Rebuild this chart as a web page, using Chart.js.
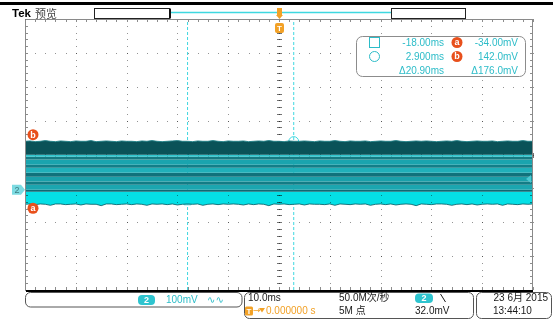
<!DOCTYPE html>
<html>
<head>
<meta charset="utf-8">
<script src="https://cdn.jsdelivr.net/npm/chart.js@4.4.1/dist/chart.umd.min.js"></script>
<style>
  html, body { margin: 0; padding: 0; background: #ffffff; overflow: hidden; }
  canvas { display: block; }
</style>
</head>
<body>
<canvas id="scope" width="553" height="320" style="width:553px;height:320px"></canvas>
<script>
// ---- Screen ranges: 10 ms/div horizontally, 100 mV/div vertically (CH2) ----
const timeSpanMs = [-50, 50];
const voltSpanMv = [-296, 504];

// Upper envelope of the CH2 trace (mV), sampled evenly across the screen
const upperEdgeMv = [
  143,144,142,143,145,143,142,144,143,142,144,143,143,145,142,143,144,143,142,144,
  143,143,142,144,143,145,143,142,143,144,145,143,143,142,144,143,143,145,143,142,
  144,143,143,144,142,143,144,143,145,143,143,142,144,143,143,144,143,142,144,143,
  143,145,143,142,144,143,143,144,142,143,144,143,143,145,143,142,143,144,143,144,
  143,142,143,144,143,145,143,142,143,144,143,143,144,142,143,144,143,143,145,143,
  143
];

// Lower envelope of the CH2 trace (mV)
const lowerEdgeMv = [
  -43,-42,-44,-42,-43,-46,-42,-42,-44,-43,-42,-45,-42,-43,-43,-47,-42,-42,-44,-43,
  -42,-44,-42,-43,-46,-42,-43,-42,-44,-42,-45,-43,-42,-43,-42,-46,-43,-42,-44,-42,
  -43,-42,-43,-45,-42,-44,-42,-43,-47,-42,-43,-42,-44,-43,-42,-45,-42,-43,-43,-44,
  -42,-46,-42,-43,-44,-42,-43,-42,-46,-43,-42,-44,-42,-45,-43,-42,-43,-47,-42,-43,
  -44,-42,-42,-43,-46,-43,-42,-44,-42,-45,-43,-42,-43,-42,-46,-42,-43,-44,-42,-43,
  -42
];

// Intensity bands inside the persistence trace (mV)
const darkBandBottomMv = 103;
const stripeTopMv    = [103, 97, 89, 74, 65, 50, 38, 24, 15,  0];
const stripeBottomMv = [ 97, 89, 74, 65, 50, 38, 24, 15,  0, -6];
const brightBandTopMv = -6;

// Cursors a / b
const cursorTimesMs  = [-18.0, 2.9];
const cursorLevelsMv = [-34.0, 142.0];

// Trigger and channel settings
const triggerTimeMs  = 0;
const triggerLevelMv = 32.0;
const groundMv       = 0;
const channelScale   = '100mV';
const timeScale      = '10.0ms';
const sampleRate     = '50.0M次/秒';
const recordLength   = '5M 点';
const triggerDelay   = '0.000000 s';
const dateText       = '23 6月 2015';
const timeText       = '13:44:10';

// ---- Colours ----
const CYAN      = '#2cbcc8';
const CYAN_LINE = '#3fd8e0';
const ORANGE    = '#f2a126';
const RED       = '#e8501c';
const stripeColors = [
  'rgb(46,196,204)', 'rgb(22,122,130)', 'rgb(26,164,174)', 'rgb(19,126,136)',
  'rgb(32,176,186)', 'rgb(16,114,124)', 'rgb(26,160,170)', 'rgb(19,124,134)',
  'rgb(28,166,176)', 'rgb(14,106,116)'
];

function edgePoints(values) {
  const step = (timeSpanMs[1] - timeSpanMs[0]) / (values.length - 1);
  return values.map((v, i) => ({ x: timeSpanMs[0] + i * step, y: v }));
}
function levelLine(v) {
  return [{ x: timeSpanMs[0], y: v }, { x: timeSpanMs[1], y: v }];
}

const datasets = [];
datasets.push({
  data: edgePoints(upperEdgeMv),
  fill: { value: darkBandBottomMv },
  backgroundColor: 'rgb(10,82,88)',
  borderColor: 'rgba(30,128,134,0.9)',
  borderWidth: 1
});
stripeTopMv.forEach((top, i) => {
  datasets.push({
    data: levelLine(top),
    fill: { value: stripeBottomMv[i] },
    backgroundColor: stripeColors[i],
    borderWidth: 0
  });
});
datasets.push({
  data: edgePoints(lowerEdgeMv),
  fill: { value: brightBandTopMv },
  backgroundColor: 'rgb(4,224,230)',
  borderColor: 'rgba(12,96,104,0.85)',
  borderWidth: 1
});
const waveLastIndex = datasets.length - 1;

// Vertical cursor lines
cursorTimesMs.forEach(t => {
  datasets.push({
    data: [{ x: t, y: voltSpanMv[0] }, { x: t, y: voltSpanMv[1] }],
    borderColor: CYAN_LINE,
    borderWidth: 1,
    borderDash: [3, 2],
    fill: false
  });
});
// Cursor intersection markers (square = a, circle = b)
datasets.push({
  data: [{ x: cursorTimesMs[0], y: cursorLevelsMv[0] }],
  showLine: false, pointStyle: 'rect', pointRadius: 5,
  pointBorderColor: CYAN_LINE, pointBackgroundColor: 'rgba(0,0,0,0)', pointBorderWidth: 1
});
datasets.push({
  data: [{ x: cursorTimesMs[1], y: cursorLevelsMv[1] }],
  showLine: false, pointStyle: 'circle', pointRadius: 5,
  pointBorderColor: CYAN_LINE, pointBackgroundColor: 'rgba(0,0,0,0)', pointBorderWidth: 1
});

const FONT = '"Liberation Sans", "Noto Sans CJK SC", sans-serif';

function roundBox(ctx, x, y, w, h, r) {
  ctx.beginPath();
  ctx.roundRect(x, y, w, h, r);
}
function badge(ctx, x, y, r, color, letter) {
  ctx.fillStyle = color;
  ctx.beginPath(); ctx.arc(x, y, r, 0, Math.PI * 2); ctx.fill();
  ctx.fillStyle = '#fff';
  ctx.font = 'bold 9px ' + FONT;
  ctx.textAlign = 'center'; ctx.textBaseline = 'middle';
  ctx.fillText(letter, x, y + 0.5);
}

const graticule = {
  id: 'graticule',
  afterDatasetDraw(chart, args) {
    if (args.index !== waveLastIndex) return;
    const ctx = chart.ctx;
    const { left, right, top, bottom } = chart.chartArea;
    const dx = (right - left) / 10, dy = (bottom - top) / 8;
    ctx.save();
    ctx.fillStyle = 'rgba(0,0,0,0.42)';
    for (let i = 1; i < 10; i++) {
      const x = Math.round(left + i * dx);
      for (let k = 0; k <= 40; k++) ctx.fillRect(x, Math.round(top + k * dy / 5), 1, 1);
    }
    for (let j = 1; j < 8; j++) {
      const y = Math.round(top + j * dy);
      for (let k = 0; k <= 50; k++) ctx.fillRect(Math.round(left + k * dx / 5), y, 1, 1);
    }
    // centre cross with minor ticks
    const cx = Math.round(left + 5 * dx), cy = Math.round(top + 4 * dy);
    ctx.fillStyle = 'rgba(0,0,0,0.55)';
    for (let k = 0; k <= 40; k++) ctx.fillRect(cx - 2, Math.round(top + k * dy / 5), 5, 1);
    for (let k = 0; k <= 50; k++) ctx.fillRect(Math.round(left + k * dx / 5), cy - 2, 1, 5);
    // edge ticks
    ctx.fillStyle = 'rgba(0,0,0,0.45)';
    for (let k = 0; k <= 40; k++) {
      const y = Math.round(top + k * dy / 5);
      ctx.fillRect(left, y, 3, 1); ctx.fillRect(right - 3, y, 3, 1);
    }
    for (let k = 0; k <= 50; k++) {
      const x = Math.round(left + k * dx / 5);
      ctx.fillRect(x, top, 1, 3); ctx.fillRect(x, bottom - 3, 1, 3);
    }
    ctx.restore();
  }
};

const scopeDecor = {
  id: 'scopeDecor',
  afterDraw(chart) {
    const ctx = chart.ctx;
    const { left, right, top, bottom } = chart.chartArea;
    const xs = chart.scales.x, ys = chart.scales.y;
    ctx.save();

    // frame
    ctx.strokeStyle = '#8a8a8a'; ctx.lineWidth = 1;
    ctx.beginPath();
    ctx.moveTo(left + 0.5, bottom); ctx.lineTo(left + 0.5, top + 0.5);
    ctx.lineTo(right - 0.5, top + 0.5); ctx.lineTo(right - 0.5, bottom);
    ctx.stroke();
    ctx.fillStyle = '#000';
    ctx.fillRect(left + 1, bottom, right - left - 1, 2);

    // header
    ctx.fillRect(0, 2, 553, 3);
    ctx.font = 'bold 11.5px ' + FONT;
    ctx.textAlign = 'left'; ctx.textBaseline = 'alphabetic';
    ctx.fillText('Tek', 12, 17);
    ctx.font = '11px "Noto Sans CJK SC", sans-serif';
    ctx.fillStyle = '#444';
    ctx.fillText('预览', 35, 17.5);

    // record view bar
    ctx.strokeStyle = '#222'; ctx.lineWidth = 1;
    ctx.strokeRect(94.5, 8.5, 75.5, 10);
    ctx.strokeRect(391.5, 8.5, 74, 10);
    ctx.strokeStyle = CYAN_LINE; ctx.lineWidth = 1.5;
    ctx.beginPath(); ctx.moveTo(170, 12.5); ctx.lineTo(391, 12.5); ctx.stroke();
    ctx.fillStyle = '#111';
    ctx.fillRect(169, 9, 2, 9);

    // trigger position markers
    const tx = Math.round(xs.getPixelForValue(triggerTimeMs));
    ctx.fillStyle = ORANGE;
    ctx.fillRect(tx - 2, 8, 5, 7);
    ctx.beginPath(); ctx.moveTo(tx - 3, 15); ctx.lineTo(tx + 4, 15); ctx.lineTo(tx + 0.5, 19); ctx.closePath(); ctx.fill();
    roundBox(ctx, tx - 4, 23, 9, 10, 2); ctx.fill();
    ctx.fillStyle = '#fff';
    ctx.font = 'bold 8px ' + FONT; ctx.textAlign = 'center'; ctx.textBaseline = 'middle';
    ctx.fillText('T', tx + 0.5, 28.5);

    // ground reference marker for CH2
    const gy = ys.getPixelForValue(groundMv);
    ctx.fillStyle = '#7ddbe2';
    ctx.beginPath();
    ctx.moveTo(12, gy - 5); ctx.lineTo(21, gy - 5); ctx.lineTo(25, gy);
    ctx.lineTo(21, gy + 5); ctx.lineTo(12, gy + 5); ctx.closePath(); ctx.fill();
    ctx.fillStyle = '#3d7c82';
    ctx.font = '9px ' + FONT;
    ctx.fillText('2', 17, gy + 0.5);

    // trigger level marker
    const ty = ys.getPixelForValue(triggerLevelMv);
    ctx.fillStyle = '#4cc8d2';
    ctx.beginPath(); ctx.moveTo(right - 7, ty); ctx.lineTo(right - 2, ty - 4); ctx.lineTo(right - 2, ty + 4); ctx.closePath(); ctx.fill();

    // cursor a / b labels at the left edge
    badge(ctx, left + 8, ys.getPixelForValue(cursorLevelsMv[1]) - 7, 5.5, RED, 'b');
    badge(ctx, left + 8, ys.getPixelForValue(cursorLevelsMv[0]) + 7, 5.5, RED, 'a');

    // cursor readout
    ctx.fillStyle = '#fff';
    roundBox(ctx, 356.5, 36.5, 169, 40, 6); ctx.fill();
    ctx.strokeStyle = '#8c8c8c'; ctx.lineWidth = 1; ctx.stroke();
    ctx.strokeStyle = CYAN; 
    ctx.strokeRect(369.5, 37.5, 10, 10);
    ctx.beginPath(); ctx.arc(374.5, 56.5, 5, 0, Math.PI * 2); ctx.stroke();
    const fmt = v => v.toPrecision(4);
    const dt = cursorTimesMs[1] - cursorTimesMs[0];
    const dv = cursorLevelsMv[1] - cursorLevelsMv[0];
    ctx.fillStyle = CYAN; ctx.font = '10px ' + FONT;
    ctx.textAlign = 'right'; ctx.textBaseline = 'middle';
    ctx.fillText(fmt(cursorTimesMs[0]) + 'ms', 444, 43);
    ctx.fillText(fmt(cursorTimesMs[1]) + 'ms', 444, 57);
    ctx.fillText('Δ' + fmt(dt) + 'ms', 444, 71);
    ctx.fillText(fmt(cursorLevelsMv[0]) + 'mV', 518, 43);
    ctx.fillText(fmt(cursorLevelsMv[1]) + 'mV', 518, 57);
    ctx.fillText('Δ' + fmt(dv) + 'mV', 518, 71);
    badge(ctx, 457, 42.5, 5.5, RED, 'a');
    badge(ctx, 457, 56.5, 5.5, RED, 'b');

    // ---- status bar ----
    ctx.strokeStyle = '#555'; ctx.lineWidth = 1;
    roundBox(ctx, 25.5, 292.5, 216.5, 14.5, 5); ctx.stroke();
    roundBox(ctx, 244.5, 292.5, 229, 26, 5); ctx.stroke();
    roundBox(ctx, 476.5, 292.5, 75, 26, 5); ctx.stroke();

    // channel 2 settings
    ctx.fillStyle = '#2ec4cf';
    roundBox(ctx, 138, 295, 17, 10, 4); ctx.fill();
    ctx.fillStyle = '#fff'; ctx.font = 'bold 9px ' + FONT;
    ctx.textAlign = 'center'; ctx.fillText('2', 146.5, 300.5);
    ctx.fillStyle = CYAN; ctx.font = '10px ' + FONT; ctx.textAlign = 'left';
    ctx.fillText(channelScale, 166, 300.5);
    ctx.font = '10px "DejaVu Sans", sans-serif';
    ctx.fillText('∿∿', 207, 300);

    // horizontal / acquisition
    ctx.fillStyle = '#1a1a1a'; ctx.font = '10px ' + FONT;
    ctx.fillText(timeScale, 248, 298.5);
    ctx.fillText(sampleRate, 339, 298.5);
    ctx.fillText(recordLength, 339, 311.5);
    ctx.fillStyle = ORANGE;
    roundBox(ctx, 245, 306.5, 8, 9, 1.5); ctx.fill();
    ctx.fillStyle = '#fff'; ctx.font = 'bold 8px ' + FONT; ctx.textAlign = 'center';
    ctx.fillText('T', 249, 311.5);
    ctx.fillStyle = ORANGE; ctx.textAlign = 'left'; ctx.font = '9px "DejaVu Sans", sans-serif';
    ctx.fillText('→', 253, 311);
    ctx.beginPath(); ctx.moveTo(259, 308); ctx.lineTo(265, 308); ctx.lineTo(262, 312.5); ctx.closePath(); ctx.fill();
    ctx.font = '10px ' + FONT;
    ctx.fillText(triggerDelay, 266, 311.5);

    // trigger
    ctx.fillStyle = '#2ec4cf';
    roundBox(ctx, 415, 293.5, 18, 9.5, 4); ctx.fill();
    ctx.fillStyle = '#fff'; ctx.font = 'bold 9px ' + FONT; ctx.textAlign = 'center';
    ctx.fillText('2', 424, 298.5);
    ctx.strokeStyle = '#1a1a1a'; ctx.lineWidth = 1;
    ctx.beginPath(); ctx.moveTo(440.5, 294); ctx.lineTo(445.5, 302); ctx.stroke();
    ctx.fillStyle = '#1a1a1a'; ctx.font = '10px ' + FONT; ctx.textAlign = 'left';
    ctx.fillText(triggerLevelMv.toFixed(1) + 'mV', 415, 311.5);

    // date / time
    ctx.textAlign = 'right';
    ctx.fillText(dateText, 548, 298.5);
    ctx.textAlign = 'left';
    ctx.fillText(timeText, 493, 311.5);

    ctx.restore();
  }
};

new Chart(document.getElementById('scope'), {
  type: 'line',
  data: { datasets },
  options: {
    responsive: false,
    devicePixelRatio: 1,
    animation: false,
    parsing: true,
    layout: { padding: { left: 25, top: 19, right: 20, bottom: 30 } },
    elements: { point: { radius: 0, hoverRadius: 0 }, line: { tension: 0 } },
    scales: {
      x: { type: 'linear', min: timeSpanMs[0], max: timeSpanMs[1], display: false },
      y: { type: 'linear', min: voltSpanMv[0], max: voltSpanMv[1], display: false }
    },
    plugins: { legend: { display: false }, tooltip: { enabled: false } },
    events: []
  },
  plugins: [graticule, scopeDecor]
});
</script>
</body>
</html>
